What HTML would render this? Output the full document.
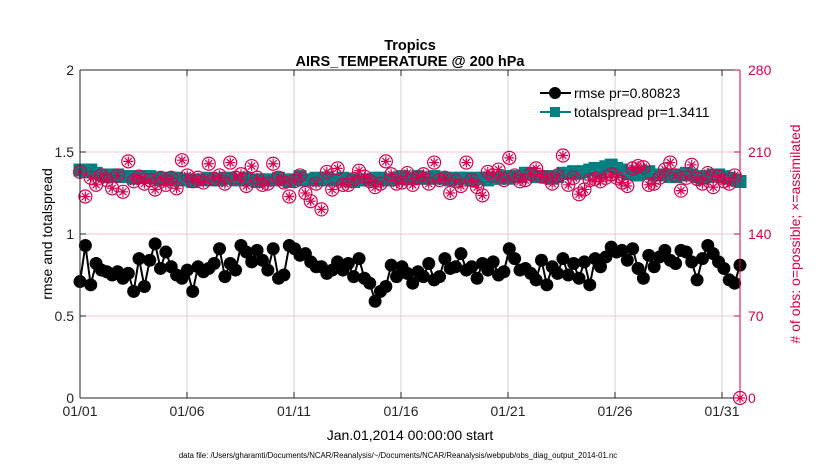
<!DOCTYPE html>
<html><head><meta charset="utf-8">
<style>
html,body{margin:0;padding:0;background:#fff;}
svg{display:block;font-family:"Liberation Sans",sans-serif;}
</style></head>
<body>
<svg id="chart" width="830" height="470" viewBox="0 0 830 470" xmlns="http://www.w3.org/2000/svg">
<rect x="0" y="0" width="830" height="470" fill="#fff"/>
<text x="410" y="50" font-size="14.5" font-weight="bold" text-anchor="middle">Tropics</text>
<text x="410" y="66" font-size="14.5" font-weight="bold" text-anchor="middle">AIRS_TEMPERATURE @ 200 hPa</text>
<g id="grid"></g>
<g id="series"></g>
<g id="axes"></g>
<text transform="translate(52,234) rotate(-90)" font-size="14" text-anchor="middle">rmse and totalspread</text>
<text transform="translate(800,234) rotate(-90)" font-size="14" fill="#d6004f" text-anchor="middle"># of obs: o=possible; ×=assimilated</text>
<text x="410" y="440" font-size="14" text-anchor="middle">Jan.01,2014 00:00:00 start</text>
<text x="398" y="458" font-size="7.8" text-anchor="middle">data file: /Users/gharamti/Documents/NCAR/Reanalysis/~/Documents/NCAR/Reanalysis/webpub/obs_diag_output_2014-01.nc</text>
<g>
  <line x1="540" y1="93" x2="571" y2="93" stroke="#000" stroke-width="2"/>
  <circle cx="555" cy="93" r="6" fill="#000"/>
  <text x="574" y="98" font-size="14">rmse pr=0.80823</text>
  <line x1="540" y1="112" x2="571" y2="112" stroke="#008080" stroke-width="2"/>
  <rect x="550" y="107" width="10" height="10" fill="#008080"/>
  <text x="574" y="117" font-size="14">totalspread pr=1.3411</text>
</g>
</svg>
<script>
const xTickLabels=["01/01","01/06","01/11","01/16","01/21","01/26","01/31"];
const xTickDays=[0,5,10,15,20,25,30];
const yTicks=[0,0.5,1,1.5,2];
const yTickLabels=["0","0.5","1","1.5","2"];
const y2Ticks=[0,70,140,210,280];
const rmse=[0.71,0.93,0.69,0.82,0.78,0.77,0.75,0.77,0.73,0.76,0.65,0.85,0.68,0.84,0.94,0.79,0.89,0.80,0.75,0.73,
0.78,0.65,0.80,0.77,0.79,0.82,0.91,0.74,0.82,0.78,0.93,0.89,0.83,0.90,0.84,0.78,0.91,0.73,0.75,0.93,
0.91,0.87,0.88,0.83,0.80,0.80,0.76,0.78,0.83,0.78,0.82,0.74,0.85,0.73,0.70,0.59,0.65,0.68,0.81,0.74,
0.80,0.76,0.70,0.77,0.74,0.82,0.72,0.74,0.85,0.79,0.80,0.88,0.78,0.80,0.73,0.82,0.78,0.83,0.75,0.77,
0.91,0.85,0.78,0.79,0.76,0.72,0.84,0.69,0.80,0.76,0.85,0.75,0.82,0.73,0.83,0.69,0.85,0.80,0.86,0.92,
0.89,0.90,0.84,0.91,0.79,0.73,0.87,0.80,0.86,0.90,0.84,0.82,0.90,0.89,0.83,0.72,0.85,0.93,0.88,0.83,0.79,0.72,0.70,0.81];
const spread=[1.39,1.38,1.39,1.37,1.36,1.35,1.36,1.36,1.35,1.35,1.34,1.35,1.35,1.35,1.34,1.33,1.34,1.33,1.34,1.33,
1.33,1.32,1.33,1.33,1.34,1.33,1.33,1.34,1.34,1.33,1.33,1.34,1.33,1.32,1.33,1.33,1.33,1.34,1.33,1.32,
1.33,1.35,1.33,1.33,1.34,1.33,1.34,1.33,1.33,1.34,1.33,1.32,1.33,1.33,1.33,1.34,1.34,1.33,1.33,1.34,
1.35,1.34,1.34,1.35,1.34,1.34,1.35,1.34,1.34,1.33,1.34,1.34,1.34,1.33,1.34,1.34,1.33,1.34,1.34,1.35,
1.34,1.35,1.35,1.37,1.37,1.35,1.35,1.35,1.34,1.35,1.37,1.37,1.38,1.37,1.38,1.39,1.40,1.38,1.41,1.42,
1.40,1.39,1.37,1.37,1.36,1.37,1.38,1.36,1.36,1.36,1.35,1.35,1.36,1.37,1.36,1.35,1.34,1.35,1.36,1.36,1.35,1.34,1.33,1.32];
const obsCount=[193,172,188,182,190,186,179,190,176,202,185,189,183,186,178,188,182,188,179,203,
190,185,188,184,200,187,190,183,201,188,191,181,198,188,182,183,200,188,184,172,
185,190,175,168,183,161,193,178,196,182,182,187,194,189,185,180,183,202,191,183,
184,192,182,188,191,183,201,186,188,175,185,181,201,186,180,173,193,190,195,186,
205,190,185,186,191,196,189,188,183,190,207,182,188,174,178,186,187,185,188,191,
188,184,181,196,198,197,182,183,188,195,201,190,177,188,199,187,183,192,180,189,185,183,190,0];
const N=rmse.length;
const X0=80,X1=740,Y0=398,Y1=70;
const xDay=d=>X0+d*21.4;
const xIdx=i=>X0+i*(X1-X0)/(N-1);
const yL=v=>Y0-(v/2)*(Y0-Y1);
const yR=c=>Y0-(c/280)*(Y0-Y1);
const NS="http://www.w3.org/2000/svg";
function mk(tag,attrs,parent){const e=document.createElementNS(NS,tag);for(const k in attrs)e.setAttribute(k,attrs[k]);parent.appendChild(e);return e;}
const grid=document.getElementById('grid'),ser=document.getElementById('series'),ax=document.getElementById('axes');
xTickDays.forEach(d=>{const l=mk('line',{x1:xDay(d),x2:xDay(d),y1:Y1,y2:Y0,stroke:'#d0d0d0','stroke-width':1},grid);

});
y2Ticks.forEach(c=>{const l=mk('line',{x1:X0,x2:X1,y1:yR(c),y2:yR(c),stroke:'#f6c6d6','stroke-width':1},grid);

});
// rmse
let p='';rmse.forEach((v,i)=>{p+=(i?'L':'M')+xIdx(i).toFixed(1)+','+yL(v).toFixed(1);});
const rl=mk('path',{d:p,fill:'none',stroke:'#000','stroke-width':2},ser);


rmse.forEach((v,i)=>{const c=mk('circle',{cx:xIdx(i),cy:yL(v),r:6.5,fill:'#000'},ser);

});
// spread line
p='';spread.forEach((v,i)=>{p+=(i?'L':'M')+xIdx(i).toFixed(1)+','+yL(v).toFixed(1);});
const sl=mk('path',{d:p,fill:'none',stroke:'#008080','stroke-width':4},ser);


spread.forEach((v,i)=>{const r=mk('rect',{x:xIdx(i)-6.5,y:yL(v)-6.5,width:13,height:13,fill:'#008080'},ser);

});
// obs counts
obsCount.forEach((c,i)=>{const cx=xIdx(i),cy=yR(c);const g=mk('g',{stroke:'#d6004f','stroke-width':1.2,fill:'none'},ser);


mk('circle',{cx:cx,cy:cy,r:6.5},g);
mk('path',{d:`M${cx-5},${cy}H${cx+5}M${cx},${cy-5}V${cy+5}M${cx-3.5},${cy-3.5}L${cx+3.5},${cy+3.5}M${cx-3.5},${cy+3.5}L${cx+3.5},${cy-3.5}`},g);});
// axes
mk('line',{x1:X0,x2:X0,y1:Y1,y2:Y0,stroke:'#262626','stroke-width':1},ax);
mk('line',{x1:X0,x2:X1,y1:Y0,y2:Y0,stroke:'#262626','stroke-width':1},ax);
mk('line',{x1:X0,x2:X1,y1:Y1,y2:Y1,stroke:'#262626','stroke-width':1},ax);
mk('line',{x1:X1,x2:X1,y1:Y1,y2:Y0,stroke:'#d6004f','stroke-width':1},ax);
yTicks.forEach((v,i)=>{mk('line',{x1:X0,x2:X0+6,y1:yL(v),y2:yL(v),stroke:'#262626'},ax);
const t=mk('text',{x:X0-6,y:yL(v)+5,'font-size':14,'text-anchor':'end',fill:'#262626'},ax);t.textContent=yTickLabels[i];

});
y2Ticks.forEach(c=>{mk('line',{x1:X1-6,x2:X1,y1:yR(c),y2:yR(c),stroke:'#d6004f'},ax);
const t=mk('text',{x:X1+8,y:yR(c)+5,'font-size':14,fill:'#d6004f'},ax);t.textContent=c;

});
xTickDays.forEach((d,i)=>{mk('line',{x1:xDay(d),x2:xDay(d),y1:Y0,y2:Y0-6,stroke:'#262626'},ax);
mk('line',{x1:xDay(d),x2:xDay(d),y1:Y1,y2:Y1+6,stroke:'#262626'},ax);
const t=mk('text',{x:xDay(d),y:Y0+18,'font-size':14,'text-anchor':'middle',fill:'#262626'},ax);t.textContent=xTickLabels[i];

});
</script>
</body></html>
